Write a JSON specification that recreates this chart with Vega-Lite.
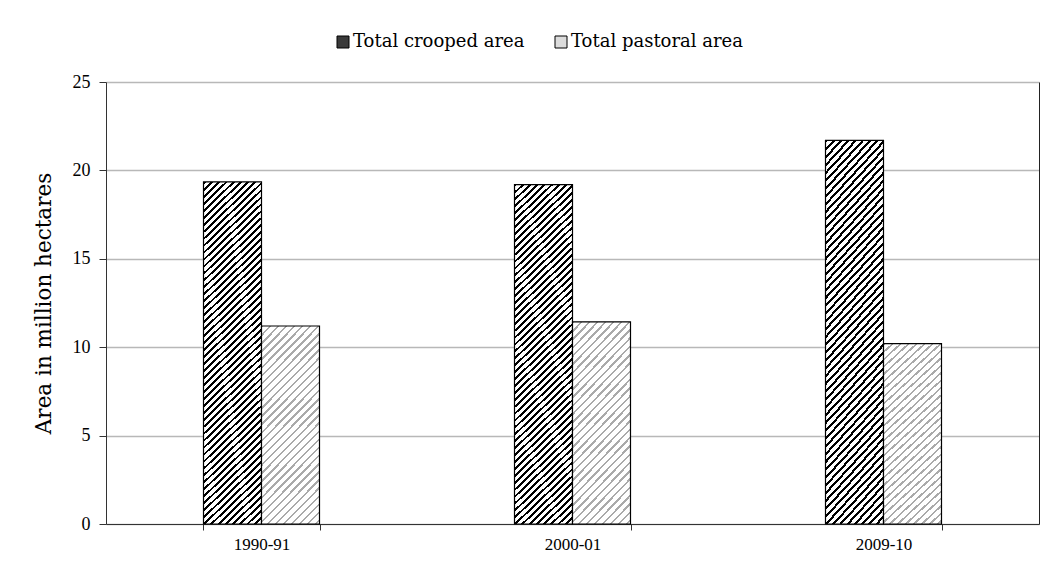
{
  "$schema": "https://vega.github.io/schema/vega-lite/v6.json",
  "width": 933,
  "height": 442,
  "autosize": {"type": "none"},
  "padding": {"left": 106, "top": 82, "right": 18, "bottom": 46},
  "background": "#ffffff",
  "config": {"view": {"stroke": null}, "font": "DejaVu Serif"},
  "data": {
    "values": [
      {"year": "1990-91", "series": "Total crooped area", "area": 19.35},
      {"year": "1990-91", "series": "Total pastoral area", "area": 11.2},
      {"year": "2000-01", "series": "Total crooped area", "area": 19.2},
      {"year": "2000-01", "series": "Total pastoral area", "area": 11.43},
      {"year": "2009-10", "series": "Total crooped area", "area": 21.7},
      {"year": "2009-10", "series": "Total pastoral area", "area": 10.2}
    ]
  },
  "encoding": {
    "x": {
      "field": "year",
      "type": "nominal",
      "sort": null,
      "scale": {"paddingInner": 0.627, "paddingOuter": 0.3135},
      "axis": {
        "title": null,
        "labelAngle": 0,
        "labelFont": "Liberation Serif",
        "labelFontSize": 17,
        "labelColor": "#000000",
        "tickBand": "extent",
        "tickSize": 6,
        "tickColor": "#333333",
        "domainColor": "#333333",
        "labelPadding": 6
      }
    },
    "xOffset": {
      "field": "series",
      "type": "nominal",
      "sort": ["Total crooped area", "Total pastoral area"],
      "scale": {"domain": ["Total crooped area", "Total pastoral area"], "paddingInner": 0, "paddingOuter": 0}
    }
  },
  "layer": [
    {
      "mark": {"type": "bar"},
      "encoding": {
        "y": {
          "field": "area",
          "type": "quantitative",
          "scale": {"domain": [0, 25], "nice": false},
          "axis": {
            "title": "Area in million hectares",
            "values": [0, 5, 10, 15, 20, 25],
            "grid": true,
            "gridColor": "#b8b8b8",
            "gridWidth": 1.5,
            "domainColor": "#333333",
            "tickColor": "#333333",
            "tickSize": 7,
            "labelFont": "Liberation Serif",
            "labelFontSize": 18,
            "labelColor": "#000000",
            "labelPadding": 9,
            "titleFont": "DejaVu Serif",
            "titleFontSize": 21.5,
            "titleFontWeight": "normal",
            "titleColor": "#000000",
            "titlePadding": 17
          }
        },
        "fill": {
          "field": "series",
          "type": "nominal",
          "sort": ["Total crooped area", "Total pastoral area"],
          "scale": {"range": ["#3a3a3a", "#dcdcdc"]},
          "legend": {
            "title": null,
            "orient": "none",
            "legendX": 228,
            "legendY": -49,
            "direction": "horizontal",
            "symbolType": "square",
            "symbolSize": 144,
            "symbolStrokeColor": "#000000",
            "symbolStrokeWidth": 1,
            "labelFont": "DejaVu Serif",
            "labelFontSize": 18,
            "labelColor": "#000000",
            "labelOffset": 1,
            "columnPadding": 27,
            "labelLimit": 400
          }
        }
      }
    },
    {
      "transform": [{"filter": "datum.series === 'Total crooped area'"}],
      "mark": {
        "type": "bar",
        "stroke": "#000000",
        "strokeWidth": 1.2,
        "fill": {
          "gradient": "linear", "x1": 0, "y1": 0, "x2": 0.1851, "y2": 1.1331,
          "stops": [
            {"offset": 0, "color": "#000"}, {"offset": 0.007, "color": "#000"}, {"offset": 0.007, "color": "#fff"}, {"offset": 0.0175, "color": "#fff"},
            {"offset": 0.0175, "color": "#000"}, {"offset": 0.0245, "color": "#000"}, {"offset": 0.0245, "color": "#fff"}, {"offset": 0.035, "color": "#fff"},
            {"offset": 0.035, "color": "#000"}, {"offset": 0.042, "color": "#000"}, {"offset": 0.042, "color": "#fff"}, {"offset": 0.0525, "color": "#fff"},
            {"offset": 0.0525, "color": "#000"}, {"offset": 0.0595, "color": "#000"}, {"offset": 0.0595, "color": "#fff"}, {"offset": 0.07, "color": "#fff"},
            {"offset": 0.07, "color": "#000"}, {"offset": 0.077, "color": "#000"}, {"offset": 0.077, "color": "#fff"}, {"offset": 0.0875, "color": "#fff"},
            {"offset": 0.0875, "color": "#000"}, {"offset": 0.0945, "color": "#000"}, {"offset": 0.0945, "color": "#fff"}, {"offset": 0.105, "color": "#fff"},
            {"offset": 0.105, "color": "#000"}, {"offset": 0.112, "color": "#000"}, {"offset": 0.112, "color": "#fff"}, {"offset": 0.1225, "color": "#fff"},
            {"offset": 0.1225, "color": "#000"}, {"offset": 0.1295, "color": "#000"}, {"offset": 0.1295, "color": "#fff"}, {"offset": 0.14, "color": "#fff"},
            {"offset": 0.14, "color": "#000"}, {"offset": 0.147, "color": "#000"}, {"offset": 0.147, "color": "#fff"}, {"offset": 0.1575, "color": "#fff"},
            {"offset": 0.1575, "color": "#000"}, {"offset": 0.1645, "color": "#000"}, {"offset": 0.1645, "color": "#fff"}, {"offset": 0.175, "color": "#fff"},
            {"offset": 0.175, "color": "#000"}, {"offset": 0.182, "color": "#000"}, {"offset": 0.182, "color": "#fff"}, {"offset": 0.1925, "color": "#fff"},
            {"offset": 0.1925, "color": "#000"}, {"offset": 0.1995, "color": "#000"}, {"offset": 0.1995, "color": "#fff"}, {"offset": 0.21, "color": "#fff"},
            {"offset": 0.21, "color": "#000"}, {"offset": 0.217, "color": "#000"}, {"offset": 0.217, "color": "#fff"}, {"offset": 0.2275, "color": "#fff"},
            {"offset": 0.2275, "color": "#000"}, {"offset": 0.2345, "color": "#000"}, {"offset": 0.2345, "color": "#fff"}, {"offset": 0.245, "color": "#fff"},
            {"offset": 0.245, "color": "#000"}, {"offset": 0.252, "color": "#000"}, {"offset": 0.252, "color": "#fff"}, {"offset": 0.2625, "color": "#fff"},
            {"offset": 0.2625, "color": "#000"}, {"offset": 0.2695, "color": "#000"}, {"offset": 0.2695, "color": "#fff"}, {"offset": 0.28, "color": "#fff"},
            {"offset": 0.28, "color": "#000"}, {"offset": 0.287, "color": "#000"}, {"offset": 0.287, "color": "#fff"}, {"offset": 0.2975, "color": "#fff"},
            {"offset": 0.2975, "color": "#000"}, {"offset": 0.3045, "color": "#000"}, {"offset": 0.3045, "color": "#fff"}, {"offset": 0.315, "color": "#fff"},
            {"offset": 0.315, "color": "#000"}, {"offset": 0.322, "color": "#000"}, {"offset": 0.322, "color": "#fff"}, {"offset": 0.3325, "color": "#fff"},
            {"offset": 0.3325, "color": "#000"}, {"offset": 0.3395, "color": "#000"}, {"offset": 0.3395, "color": "#fff"}, {"offset": 0.35, "color": "#fff"},
            {"offset": 0.35, "color": "#000"}, {"offset": 0.357, "color": "#000"}, {"offset": 0.357, "color": "#fff"}, {"offset": 0.3675, "color": "#fff"},
            {"offset": 0.3675, "color": "#000"}, {"offset": 0.3745, "color": "#000"}, {"offset": 0.3745, "color": "#fff"}, {"offset": 0.385, "color": "#fff"},
            {"offset": 0.385, "color": "#000"}, {"offset": 0.392, "color": "#000"}, {"offset": 0.392, "color": "#fff"}, {"offset": 0.4025, "color": "#fff"},
            {"offset": 0.4025, "color": "#000"}, {"offset": 0.4095, "color": "#000"}, {"offset": 0.4095, "color": "#fff"}, {"offset": 0.42, "color": "#fff"},
            {"offset": 0.42, "color": "#000"}, {"offset": 0.427, "color": "#000"}, {"offset": 0.427, "color": "#fff"}, {"offset": 0.4375, "color": "#fff"},
            {"offset": 0.4375, "color": "#000"}, {"offset": 0.4445, "color": "#000"}, {"offset": 0.4445, "color": "#fff"}, {"offset": 0.455, "color": "#fff"},
            {"offset": 0.455, "color": "#000"}, {"offset": 0.462, "color": "#000"}, {"offset": 0.462, "color": "#fff"}, {"offset": 0.4725, "color": "#fff"},
            {"offset": 0.4725, "color": "#000"}, {"offset": 0.4795, "color": "#000"}, {"offset": 0.4795, "color": "#fff"}, {"offset": 0.49, "color": "#fff"},
            {"offset": 0.49, "color": "#000"}, {"offset": 0.497, "color": "#000"}, {"offset": 0.497, "color": "#fff"}, {"offset": 0.5075, "color": "#fff"},
            {"offset": 0.5075, "color": "#000"}, {"offset": 0.5145, "color": "#000"}, {"offset": 0.5145, "color": "#fff"}, {"offset": 0.525, "color": "#fff"},
            {"offset": 0.525, "color": "#000"}, {"offset": 0.532, "color": "#000"}, {"offset": 0.532, "color": "#fff"}, {"offset": 0.5425, "color": "#fff"},
            {"offset": 0.5425, "color": "#000"}, {"offset": 0.5495, "color": "#000"}, {"offset": 0.5495, "color": "#fff"}, {"offset": 0.56, "color": "#fff"},
            {"offset": 0.56, "color": "#000"}, {"offset": 0.567, "color": "#000"}, {"offset": 0.567, "color": "#fff"}, {"offset": 0.5775, "color": "#fff"},
            {"offset": 0.5775, "color": "#000"}, {"offset": 0.5845, "color": "#000"}, {"offset": 0.5845, "color": "#fff"}, {"offset": 0.595, "color": "#fff"},
            {"offset": 0.595, "color": "#000"}, {"offset": 0.602, "color": "#000"}, {"offset": 0.602, "color": "#fff"}, {"offset": 0.6125, "color": "#fff"},
            {"offset": 0.6125, "color": "#000"}, {"offset": 0.6195, "color": "#000"}, {"offset": 0.6195, "color": "#fff"}, {"offset": 0.63, "color": "#fff"},
            {"offset": 0.63, "color": "#000"}, {"offset": 0.637, "color": "#000"}, {"offset": 0.637, "color": "#fff"}, {"offset": 0.6475, "color": "#fff"},
            {"offset": 0.6475, "color": "#000"}, {"offset": 0.6545, "color": "#000"}, {"offset": 0.6545, "color": "#fff"}, {"offset": 0.665, "color": "#fff"},
            {"offset": 0.665, "color": "#000"}, {"offset": 0.672, "color": "#000"}, {"offset": 0.672, "color": "#fff"}, {"offset": 0.6825, "color": "#fff"},
            {"offset": 0.6825, "color": "#000"}, {"offset": 0.6895, "color": "#000"}, {"offset": 0.6895, "color": "#fff"}, {"offset": 0.7, "color": "#fff"},
            {"offset": 0.7, "color": "#000"}, {"offset": 0.707, "color": "#000"}, {"offset": 0.707, "color": "#fff"}, {"offset": 0.7175, "color": "#fff"},
            {"offset": 0.7175, "color": "#000"}, {"offset": 0.7245, "color": "#000"}, {"offset": 0.7245, "color": "#fff"}, {"offset": 0.735, "color": "#fff"},
            {"offset": 0.735, "color": "#000"}, {"offset": 0.742, "color": "#000"}, {"offset": 0.742, "color": "#fff"}, {"offset": 0.7525, "color": "#fff"},
            {"offset": 0.7525, "color": "#000"}, {"offset": 0.7595, "color": "#000"}, {"offset": 0.7595, "color": "#fff"}, {"offset": 0.77, "color": "#fff"},
            {"offset": 0.77, "color": "#000"}, {"offset": 0.777, "color": "#000"}, {"offset": 0.777, "color": "#fff"}, {"offset": 0.7875, "color": "#fff"},
            {"offset": 0.7875, "color": "#000"}, {"offset": 0.7945, "color": "#000"}, {"offset": 0.7945, "color": "#fff"}, {"offset": 0.805, "color": "#fff"},
            {"offset": 0.805, "color": "#000"}, {"offset": 0.812, "color": "#000"}, {"offset": 0.812, "color": "#fff"}, {"offset": 0.8225, "color": "#fff"},
            {"offset": 0.8225, "color": "#000"}, {"offset": 0.8295, "color": "#000"}, {"offset": 0.8295, "color": "#fff"}, {"offset": 0.84, "color": "#fff"},
            {"offset": 0.84, "color": "#000"}, {"offset": 0.847, "color": "#000"}, {"offset": 0.847, "color": "#fff"}, {"offset": 0.8575, "color": "#fff"},
            {"offset": 0.8575, "color": "#000"}, {"offset": 0.8645, "color": "#000"}, {"offset": 0.8645, "color": "#fff"}, {"offset": 0.875, "color": "#fff"},
            {"offset": 0.875, "color": "#000"}, {"offset": 0.882, "color": "#000"}, {"offset": 0.882, "color": "#fff"}, {"offset": 0.8925, "color": "#fff"},
            {"offset": 0.8925, "color": "#000"}, {"offset": 0.8995, "color": "#000"}, {"offset": 0.8995, "color": "#fff"}, {"offset": 0.91, "color": "#fff"},
            {"offset": 0.91, "color": "#000"}, {"offset": 0.917, "color": "#000"}, {"offset": 0.917, "color": "#fff"}, {"offset": 0.9275, "color": "#fff"},
            {"offset": 0.9275, "color": "#000"}, {"offset": 0.9345, "color": "#000"}, {"offset": 0.9345, "color": "#fff"}, {"offset": 0.945, "color": "#fff"},
            {"offset": 0.945, "color": "#000"}, {"offset": 0.952, "color": "#000"}, {"offset": 0.952, "color": "#fff"}, {"offset": 0.9625, "color": "#fff"},
            {"offset": 0.9625, "color": "#000"}, {"offset": 0.9695, "color": "#000"}, {"offset": 0.9695, "color": "#fff"}, {"offset": 0.98, "color": "#fff"},
            {"offset": 0.98, "color": "#000"}, {"offset": 0.987, "color": "#000"}, {"offset": 0.987, "color": "#fff"}, {"offset": 0.9975, "color": "#fff"},
            {"offset": 0.9975, "color": "#000"}, {"offset": 1, "color": "#000"}
          ]
        }
      },
      "encoding": {
        "y": {
          "field": "area",
          "type": "quantitative",
          "scale": {"domain": [0, 25], "nice": false},
          "axis": {
            "orient": "right",
            "labels": false,
            "ticks": false,
            "grid": false,
            "title": null,
            "domainColor": "#222222"
          }
        }
      }
    },
    {
      "transform": [{"filter": "datum.series === 'Total pastoral area'"}],
      "mark": {
        "type": "bar",
        "stroke": "#000000",
        "strokeWidth": 1.2,
        "fill": {
          "gradient": "linear", "x1": 0, "y1": 0, "x2": 0.4484, "y2": 1.5076,
          "stops": [
            {"offset": 0, "color": "#aaa"}, {"offset": 0.0075, "color": "#aaa"}, {"offset": 0.0075, "color": "#fff"}, {"offset": 0.025, "color": "#fff"},
            {"offset": 0.025, "color": "#aaa"}, {"offset": 0.0325, "color": "#aaa"}, {"offset": 0.0325, "color": "#fff"}, {"offset": 0.05, "color": "#fff"},
            {"offset": 0.05, "color": "#aaa"}, {"offset": 0.0575, "color": "#aaa"}, {"offset": 0.0575, "color": "#fff"}, {"offset": 0.075, "color": "#fff"},
            {"offset": 0.075, "color": "#aaa"}, {"offset": 0.0825, "color": "#aaa"}, {"offset": 0.0825, "color": "#fff"}, {"offset": 0.1, "color": "#fff"},
            {"offset": 0.1, "color": "#aaa"}, {"offset": 0.1075, "color": "#aaa"}, {"offset": 0.1075, "color": "#fff"}, {"offset": 0.125, "color": "#fff"},
            {"offset": 0.125, "color": "#aaa"}, {"offset": 0.1325, "color": "#aaa"}, {"offset": 0.1325, "color": "#fff"}, {"offset": 0.15, "color": "#fff"},
            {"offset": 0.15, "color": "#aaa"}, {"offset": 0.1575, "color": "#aaa"}, {"offset": 0.1575, "color": "#fff"}, {"offset": 0.175, "color": "#fff"},
            {"offset": 0.175, "color": "#aaa"}, {"offset": 0.1825, "color": "#aaa"}, {"offset": 0.1825, "color": "#fff"}, {"offset": 0.2, "color": "#fff"},
            {"offset": 0.2, "color": "#aaa"}, {"offset": 0.2075, "color": "#aaa"}, {"offset": 0.2075, "color": "#fff"}, {"offset": 0.225, "color": "#fff"},
            {"offset": 0.225, "color": "#aaa"}, {"offset": 0.2325, "color": "#aaa"}, {"offset": 0.2325, "color": "#fff"}, {"offset": 0.25, "color": "#fff"},
            {"offset": 0.25, "color": "#aaa"}, {"offset": 0.2575, "color": "#aaa"}, {"offset": 0.2575, "color": "#fff"}, {"offset": 0.275, "color": "#fff"},
            {"offset": 0.275, "color": "#aaa"}, {"offset": 0.2825, "color": "#aaa"}, {"offset": 0.2825, "color": "#fff"}, {"offset": 0.3, "color": "#fff"},
            {"offset": 0.3, "color": "#aaa"}, {"offset": 0.3075, "color": "#aaa"}, {"offset": 0.3075, "color": "#fff"}, {"offset": 0.325, "color": "#fff"},
            {"offset": 0.325, "color": "#aaa"}, {"offset": 0.3325, "color": "#aaa"}, {"offset": 0.3325, "color": "#fff"}, {"offset": 0.35, "color": "#fff"},
            {"offset": 0.35, "color": "#aaa"}, {"offset": 0.3575, "color": "#aaa"}, {"offset": 0.3575, "color": "#fff"}, {"offset": 0.375, "color": "#fff"},
            {"offset": 0.375, "color": "#aaa"}, {"offset": 0.3825, "color": "#aaa"}, {"offset": 0.3825, "color": "#fff"}, {"offset": 0.4, "color": "#fff"},
            {"offset": 0.4, "color": "#aaa"}, {"offset": 0.4075, "color": "#aaa"}, {"offset": 0.4075, "color": "#fff"}, {"offset": 0.425, "color": "#fff"},
            {"offset": 0.425, "color": "#aaa"}, {"offset": 0.4325, "color": "#aaa"}, {"offset": 0.4325, "color": "#fff"}, {"offset": 0.45, "color": "#fff"},
            {"offset": 0.45, "color": "#aaa"}, {"offset": 0.4575, "color": "#aaa"}, {"offset": 0.4575, "color": "#fff"}, {"offset": 0.475, "color": "#fff"},
            {"offset": 0.475, "color": "#aaa"}, {"offset": 0.4825, "color": "#aaa"}, {"offset": 0.4825, "color": "#fff"}, {"offset": 0.5, "color": "#fff"},
            {"offset": 0.5, "color": "#aaa"}, {"offset": 0.5075, "color": "#aaa"}, {"offset": 0.5075, "color": "#fff"}, {"offset": 0.525, "color": "#fff"},
            {"offset": 0.525, "color": "#aaa"}, {"offset": 0.5325, "color": "#aaa"}, {"offset": 0.5325, "color": "#fff"}, {"offset": 0.55, "color": "#fff"},
            {"offset": 0.55, "color": "#aaa"}, {"offset": 0.5575, "color": "#aaa"}, {"offset": 0.5575, "color": "#fff"}, {"offset": 0.575, "color": "#fff"},
            {"offset": 0.575, "color": "#aaa"}, {"offset": 0.5825, "color": "#aaa"}, {"offset": 0.5825, "color": "#fff"}, {"offset": 0.6, "color": "#fff"},
            {"offset": 0.6, "color": "#aaa"}, {"offset": 0.6075, "color": "#aaa"}, {"offset": 0.6075, "color": "#fff"}, {"offset": 0.625, "color": "#fff"},
            {"offset": 0.625, "color": "#aaa"}, {"offset": 0.6325, "color": "#aaa"}, {"offset": 0.6325, "color": "#fff"}, {"offset": 0.65, "color": "#fff"},
            {"offset": 0.65, "color": "#aaa"}, {"offset": 0.6575, "color": "#aaa"}, {"offset": 0.6575, "color": "#fff"}, {"offset": 0.675, "color": "#fff"},
            {"offset": 0.675, "color": "#aaa"}, {"offset": 0.6825, "color": "#aaa"}, {"offset": 0.6825, "color": "#fff"}, {"offset": 0.7, "color": "#fff"},
            {"offset": 0.7, "color": "#aaa"}, {"offset": 0.7075, "color": "#aaa"}, {"offset": 0.7075, "color": "#fff"}, {"offset": 0.725, "color": "#fff"},
            {"offset": 0.725, "color": "#aaa"}, {"offset": 0.7325, "color": "#aaa"}, {"offset": 0.7325, "color": "#fff"}, {"offset": 0.75, "color": "#fff"},
            {"offset": 0.75, "color": "#aaa"}, {"offset": 0.7575, "color": "#aaa"}, {"offset": 0.7575, "color": "#fff"}, {"offset": 0.775, "color": "#fff"},
            {"offset": 0.775, "color": "#aaa"}, {"offset": 0.7825, "color": "#aaa"}, {"offset": 0.7825, "color": "#fff"}, {"offset": 0.8, "color": "#fff"},
            {"offset": 0.8, "color": "#aaa"}, {"offset": 0.8075, "color": "#aaa"}, {"offset": 0.8075, "color": "#fff"}, {"offset": 1, "color": "#fff"}
          ]
        }
      },
      "encoding": {
        "y": {
          "field": "area",
          "type": "quantitative",
          "scale": {"domain": [0, 25], "nice": false},
          "axis": null
        }
      }
    }
  ],
  "resolve": {"scale": {"y": "independent"}, "axis": {"y": "independent"}}
}
